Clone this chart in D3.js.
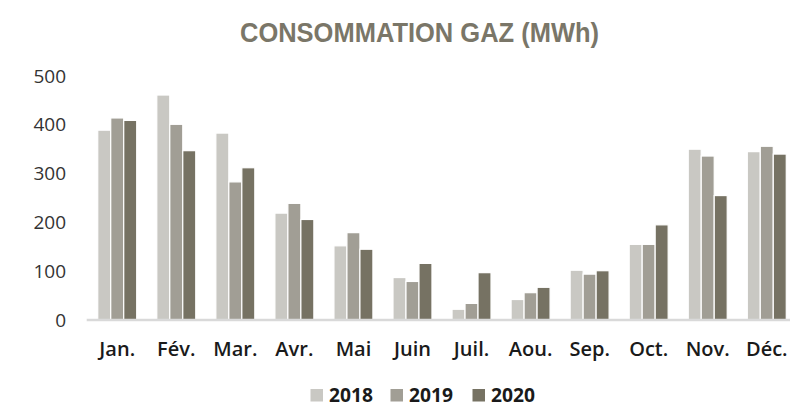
<!DOCTYPE html>
<html>
<head>
<meta charset="utf-8">
<script src="https://cdn.jsdelivr.net/npm/d3@7"></script>
<style>
  body { margin: 0; background: #fff; }
  svg { display: block; }
</style>
</head>
<body>
<div id="chart"></div>
<script>
// data
var months = ["Jan.", "Fév.", "Mar.", "Avr.", "Mai", "Juin", "Juil.", "Aou.", "Sep.", "Oct.", "Nov.", "Déc."];
var years = ["2018", "2019", "2020"];
var gaz2018 = [389, 461, 383, 219, 152, 87, 22, 42, 102, 155, 350, 345];
var gaz2019 = [414, 401, 283, 239, 179, 79, 34, 56, 94, 155, 336, 356];
var gaz2020 = [409, 347, 312, 206, 145, 116, 97, 67, 101, 195, 255, 340];
var yTicks = [0, 100, 200, 300, 400, 500];

var colors = {"2018": "#c9c8c3", "2019": "#a19e95", "2020": "#767263"};
var width = 790, height = 407;

var series = {"2018": gaz2018, "2019": gaz2019, "2020": gaz2020};
var data = months.map(function(m, i) {
  return {month: m, values: years.map(function(y) { return {year: y, value: series[y][i]}; })};
});

var svg = d3.select("#chart").append("svg")
  .attr("width", width)
  .attr("height", height);

// title (narrow bold, squeezed to the reference width)
svg.append("text")
  .attr("x", 419.5)
  .attr("y", 41.5)
  .attr("text-anchor", "middle")
  .attr("font-family", "'Liberation Sans Narrow', 'Arial Narrow', 'Liberation Sans', sans-serif")
  .attr("font-weight", "bold")
  .attr("font-size", 27.5)
  .attr("fill", "#7a7668")
  .attr("textLength", 359)
  .attr("lengthAdjust", "spacingAndGlyphs")
  .text("CONSOMMATION GAZ (MWh)");

// scales
var x0 = d3.scaleBand()
  .domain(months)
  .range([87.7, 796.3])
  .paddingInner(0.34)
  .paddingOuter(0.17);

var x1 = d3.scaleBand()
  .domain(years)
  .range([0, x0.bandwidth()]);

var y = d3.scaleLinear()
  .domain([0, 500])
  .range([320, 76]);

// y axis labels
var yAxis = svg.append("g")
  .attr("transform", "translate(66,0)")
  .call(d3.axisLeft(y).tickValues(yTicks).tickSize(0).tickPadding(0));
yAxis.select(".domain").remove();
yAxis.selectAll("text")
  .attr("font-family", "'Open Sans', sans-serif")
  .attr("font-size", 19)
  .attr("fill", "#333");

// bars
var groups = svg.append("g").selectAll("g")
  .data(data)
  .join("g")
    .attr("transform", function(d) { return "translate(" + x0(d.month) + ",0)"; });

groups.selectAll("rect")
  .data(function(d) { return d.values; })
  .join("rect")
    .attr("x", function(d) { return x1(d.year); })
    .attr("y", function(d) { return y(d.value); })
    .attr("width", x1.bandwidth())
    .attr("height", function(d) { return y(0) - y(d.value); })
    .attr("fill", function(d) { return colors[d.year]; })
    .attr("stroke", "#fff")
    .attr("stroke-width", 1.2);

// x axis: baseline + month labels
var xAxis = svg.append("g")
  .attr("transform", "translate(0," + y(0) + ")")
  .call(d3.axisBottom(x0).tickSize(0).tickPadding(0));
xAxis.select(".domain")
  .attr("d", "M86.7,0H790")
  .attr("stroke", "#d9d9d9")
  .attr("stroke-width", 2.6);
xAxis.selectAll("text")
  .attr("dy", null)
  .attr("y", 36)
  .attr("font-family", "'Open Sans', sans-serif")
  .attr("font-weight", 600)
  .attr("font-size", 20)
  .attr("fill", "#1a1a1a");

// legend
var legendX = [310.5, 390.5, 472.5];
var legend = svg.append("g").selectAll("g")
  .data(years)
  .join("g")
    .attr("transform", function(d, i) { return "translate(" + legendX[i] + ",389)"; });
legend.append("rect")
  .attr("width", 12.5)
  .attr("height", 12.5)
  .attr("fill", function(d) { return colors[d]; });
legend.append("text")
  .attr("x", 18.5)
  .attr("y", 13)
  .attr("font-family", "'Open Sans', sans-serif")
  .attr("font-weight", "bold")
  .attr("font-size", 19.5)
  .attr("fill", "#1a1a1a")
  .attr("textLength", 44)
  .attr("lengthAdjust", "spacingAndGlyphs")
  .text(function(d) { return d; });
</script>
</body>
</html>
